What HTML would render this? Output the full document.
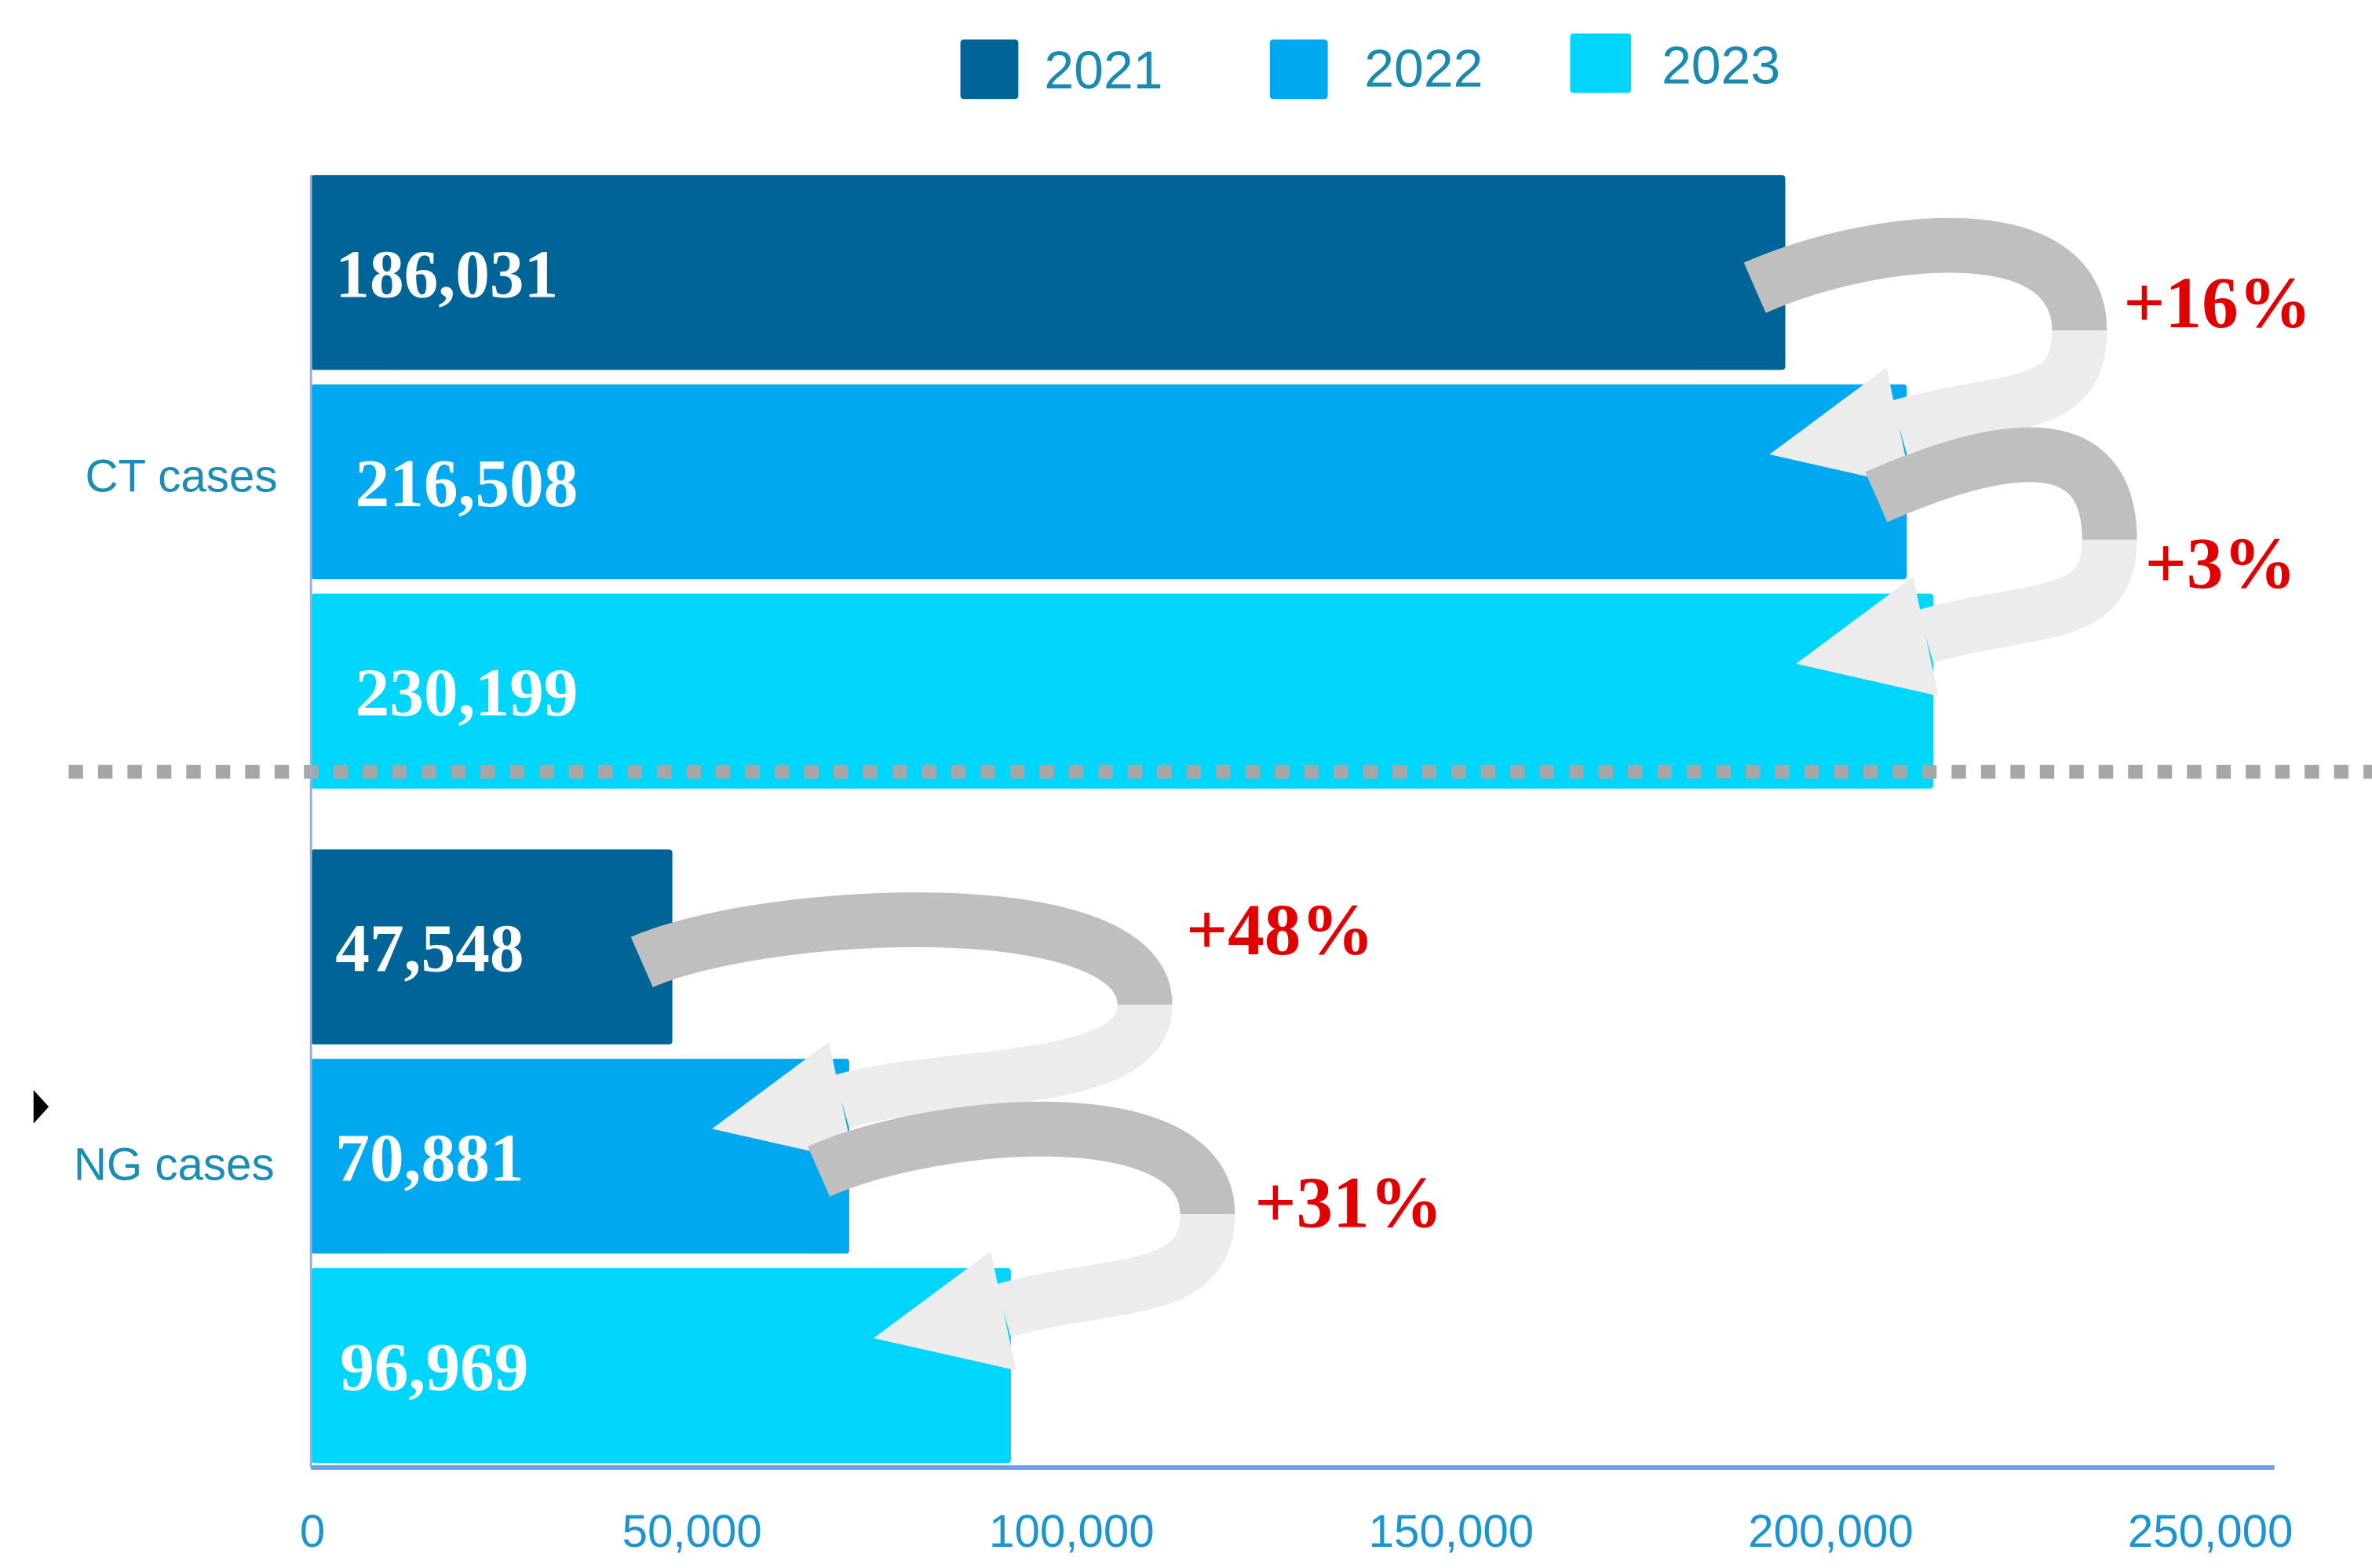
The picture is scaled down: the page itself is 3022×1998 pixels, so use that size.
<!DOCTYPE html>
<html><head><meta charset="utf-8"><style>
html,body{margin:0;padding:0;background:#fff;}
svg{display:block;}
</style></head><body>
<svg id="chart" width="3022" height="1998" viewBox="0 0 1556 1030" preserveAspectRatio="none" xmlns="http://www.w3.org/2000/svg">
<g id="legend">
  <g><rect x="630" y="26" width="38" height="39" rx="2" fill="#006596"/><text x="685" y="58" font-family="Liberation Sans, sans-serif" font-size="35" fill="#1a8ab0">2021</text></g>
  <g><rect x="833" y="26" width="38" height="39" rx="2" fill="#00a9ef"/><text x="895" y="57" font-family="Liberation Sans, sans-serif" font-size="35" fill="#1a8ab0">2022</text></g>
  <g><rect x="1030" y="22" width="40" height="39" rx="2" fill="#00d6fb"/><text x="1090" y="55" font-family="Liberation Sans, sans-serif" font-size="35" fill="#1a8ab0">2023</text></g>
</g>
<g id="bars"></g>
<g id="arrows"></g>
<g id="labels"></g>
<line x1="45" y1="507" x2="1556" y2="507" stroke="#a6a6a6" stroke-width="9" stroke-dasharray="9.5 9.8"/>
<line x1="204" y1="115" x2="204" y2="964" stroke="#8fb0e0" stroke-width="1.5"/>
<line x1="204" y1="964" x2="1492" y2="964" stroke="#6d9ee0" stroke-width="3"/>
<g id="ticks"></g>
<text x="182" y="323" text-anchor="end" font-family="Liberation Sans, sans-serif" font-size="30" fill="#1b8cb5">CT cases</text>
<text x="180" y="775" text-anchor="end" font-family="Liberation Sans, sans-serif" font-size="30" fill="#1b8cb5">NG cases</text>
<polygon points="22,716 32,727 22,738" fill="#000"/>
</svg>
<script>
const categories = ["CT cases", "NG cases"];
const years = ["2021", "2022", "2023"];
const barValues = [[194000, 210000, 213500], [47400, 70700, 92000]];
const valueLabels = [["186,031", "216,508", "230,199"], ["47,548", "70,881", "96,969"]];
const changeLabels = [["+16%", "+3%"], ["+48%", "+31%"]];
const tickValues = [0, 50000, 100000, 150000, 200000, 250000];
const tickLabels = ["0", "50,000", "100,000", "150,000", "200,000", "250,000"];

const NS = "http://www.w3.org/2000/svg";
const x0 = 205, pxPer = (1450 - 205) / 250000;
function xScale(v){ return x0 + v * pxPer; }
const colors = ["#006596", "#00a9ef", "#00d6fb"];
const groupTop = [115, 558];
const barH = 128, barStep = 137.5;
function yTop(g, i){ return groupTop[g] + i * barStep; }
const reach = [[193, 133], [310, 235]];
const pctPos = [[[1393, 215], [1407, 386]], [[778, 627], [823, 806]]];
const labelX = [[220, 233, 233], [220, 220, 223]];

function mk(tag, attrs){ const e = document.createElementNS(NS, tag); for (const k in attrs) e.setAttribute(k, attrs[k]); return e; }
const bars = document.getElementById('bars'), arrows = document.getElementById('arrows'), labels = document.getElementById('labels'), ticks = document.getElementById('ticks');

barValues.forEach((vals, g) => {
  vals.forEach((v, i) => {
    const r = mk('rect', {x: x0 - 1, y: yTop(g, i), width: xScale(v) - x0 + 1, height: barH, rx: 2, fill: colors[i]});
    
    
    bars.appendChild(r);
    const t = mk('text', {x: labelX[g][i], y: yTop(g, i) + barH / 2 + 16, 'font-family': 'Liberation Serif, serif', 'font-weight': 'bold', 'font-size': '45', fill: '#fff'});
    t.textContent = valueLabels[g][i];
    
    
    labels.appendChild(t);
  });
  for (let i = 0; i < 2; i++) {
    const xa = xScale(vals[i]), xb = xScale(vals[i + 1]);
    const ya = yTop(g, i) + barH / 2, yb = yTop(g, i + 1) + barH / 2;
    const Sx = xa - 20, Sy = ya + 10;
    const Rx = xa + reach[g][i], Ry = Sy + 28;
    const Bx = xb - 5, By = yb - 36;
    const Tx = xb - 90, Ty = yb - 18;
    const grp = mk('g', {});
    
    
    grp.appendChild(mk('path', {d: `M${Rx},${Ry} C${Rx},${Ry + 55} ${Bx + 70},${By - 20} ${Bx},${By}`, fill: 'none', stroke: '#ececec', 'stroke-width': 36}));
    grp.appendChild(mk('path', {d: `M${Sx},${Sy} C${Sx + 80},${Sy - 35} ${Rx},${Sy - 48} ${Rx},${Ry}`, fill: 'none', stroke: '#bfbfbf', 'stroke-width': 36}));
    const dx = Tx - Bx, dy = Ty - By, L = Math.hypot(dx, dy), px = -dy / L * 40, py = dx / L * 40;
    grp.appendChild(mk('polygon', {points: `${Tx},${Ty} ${Bx + px},${By + py} ${Bx - px},${By - py}`, fill: '#ececec'}));
    arrows.appendChild(grp);
    const pt = mk('text', {x: pctPos[g][i][0], y: pctPos[g][i][1], 'font-family': 'Liberation Serif, serif', 'font-weight': 'bold', 'font-size': '48', fill: '#e00000'});
    pt.textContent = changeLabels[g][i];
    
    
    labels.appendChild(pt);
  }
});

tickValues.forEach((v, i) => {
  const t = mk('text', {x: xScale(v), y: 1016, 'text-anchor': 'middle', 'font-family': 'Liberation Sans, sans-serif', 'font-size': '30', fill: '#1b95d0'});
  t.textContent = tickLabels[i];
  
  
  ticks.appendChild(t);
});
</script>
</body></html>
